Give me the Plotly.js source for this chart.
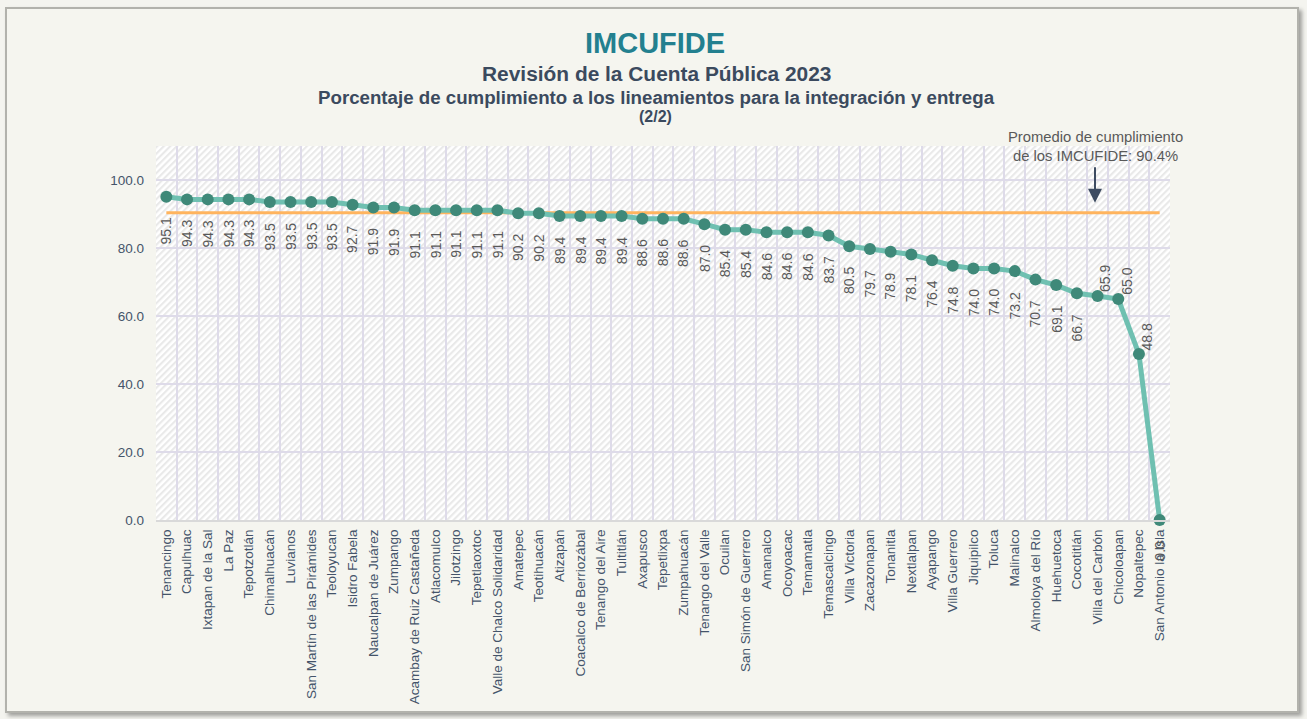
<!DOCTYPE html>
<html><head><meta charset="utf-8">
<script src="https://cdn.plot.ly/plotly-3.0.1.min.js"></script>
<style>
html,body{margin:0;padding:0;background:#f4f4ef;}
#frame{position:absolute;left:5px;top:7px;width:1290px;height:702px;background:#F5F5EF;border:2px solid #b2b2ac;box-shadow:3px 3px 4px rgba(0,0,0,0.35);}
#chart{position:absolute;left:0;top:0;width:1307px;height:719px;}
</style></head><body>
<div id="frame"></div><div id="chart"></div>
<script>
const municipios = [
  "Tenancingo","Capulhuac","Ixtapan de la Sal","La Paz","Tepotzotlán","Chimalhuacán","Luvianos",
  "San Martín de las Pirámides","Teoloyucan","Isidro Fabela","Naucalpan de Juárez","Zumpango",
  "Acambay de Ruiz Castañeda","Atlacomulco","Jilotzingo","Tepetlaoxtoc","Valle de Chalco Solidaridad",
  "Amatepec","Teotihuacán","Atizapán","Coacalco de Berriozábal","Tenango del Aire","Tultitlán",
  "Axapusco","Tepetlixpa","Zumpahuacán","Tenango del Valle","Ocuilan","San Simón de Guerrero",
  "Amanalco","Ocoyoacac","Temamatla","Temascalcingo","Villa Victoria","Zacazonapan","Tonanitla",
  "Nextlalpan","Ayapango","Villa Guerrero","Jiquipilco","Toluca","Malinalco","Almoloya del Río",
  "Huehuetoca","Cocotitlán","Villa del Carbón","Chicoloapan","Nopaltepec","San Antonio la Isla"
];
const cumplimiento = [
  95.1,94.3,94.3,94.3,94.3,93.5,93.5,
  93.5,93.5,92.7,91.9,91.9,
  91.1,91.1,91.1,91.1,91.1,
  90.2,90.2,89.4,89.4,89.4,89.4,
  88.6,88.6,88.6,87.0,85.4,85.4,
  84.6,84.6,84.6,83.7,80.5,79.7,78.9,
  78.1,76.4,74.8,74.0,74.0,73.2,70.7,
  69.1,66.7,65.9,65.0,48.8,0.0
];
const promedio = 90.4;
const yTicks = [0,20,40,60,80,100];
const titulo = "IMCUFIDE";
const subtitulo1 = "Revisión de la Cuenta Pública 2023";
const subtitulo2 = "Porcentaje de cumplimiento a los lineamientos para la integración y entrega";
const subtitulo3 = "(2/2)";
const notaPromedio = "Promedio de cumplimiento<br>de los IMCUFIDE: 90.4%";

const F = "Liberation Sans, Arial, sans-serif";
const W = 1307, H = 719, mL = 156, mR = 137, mT = 146, mB = 199;
const pw = W - mL - mR, ph = H - mT - mB;
const py = p => (H - mB - p) / ph;   // pixel y -> paper y
const px = p => (p - mL) / pw;       // pixel x -> paper x

const svg = `<svg xmlns="http://www.w3.org/2000/svg" width="${pw}" height="${ph}"><defs><pattern id="h" width="4.6" height="4.6" patternUnits="userSpaceOnUse" patternTransform="rotate(45)"><rect width="4.6" height="4.6" fill="#ffffff"/><rect width="2.1" height="4.6" fill="#e9e9e9"/></pattern></defs><rect width="100%" height="100%" fill="url(#h)"/></svg>`;
const hatch = "data:image/svg+xml;charset=utf-8," + encodeURIComponent(svg);

const arribaDerecha = new Set([45,46,47]);
const etiquetas = cumplimiento.map((v,i) => {
  const up = arribaDerecha.has(i);
  return {
    x: municipios[i], y: v, xref:'x', yref:'y', text: v.toFixed(1), textangle: -90,
    showarrow:false, font:{family:F,size:14,color:'#595959'},
    xanchor:'center', yanchor: up ? 'bottom' : 'top',
    xshift: up ? 8 : 0, yshift: up ? 2 : -19
  };
});

const titulos = [
  {text:'<b>'+titulo+'</b>', x:px(655), y:py(43), font:{family:F,size:29,color:'#23808F'}},
  {text:'<b>'+subtitulo1+'</b>', x:px(656), y:py(73), font:{family:F,size:20.9,color:'#3B4A5E'}},
  {text:'<b>'+subtitulo2+'</b>', x:px(656), y:py(98), font:{family:F,size:18.7,color:'#3B4A5E'}},
  {text:'<b>'+subtitulo3+'</b>', x:px(655), y:py(117), font:{family:F,size:16,color:'#3B4A5E'}}
].map(a => Object.assign(a,{xref:'paper',yref:'paper',xanchor:'center',yanchor:'middle',showarrow:false}));

const nota = [
  {text: notaPromedio, x:px(1095), y:py(166), xref:'paper', yref:'paper', xanchor:'center', yanchor:'bottom',
   showarrow:false, font:{family:F,size:14.8,color:'#595959'}},
  {text:'', x:px(1095), y:promedio, xref:'paper', yref:'y', yshift:10, showarrow:true,
   ax:0, ay:-37, arrowhead:2, arrowsize:1.4, arrowwidth:2, arrowcolor:'#3D4B61'}
];

const traces = [
  {x:[municipios[0], municipios[municipios.length-1]], y:[promedio,promedio], type:'scatter', mode:'lines',
   line:{color:'#FFB45E', width:3}, hoverinfo:'skip'},
  {x:municipios, y:cumplimiento, type:'scatter', mode:'lines+markers', cliponaxis:false,
   line:{color:'#6FC0B1', width:5}, marker:{color:'#3F8979', size:12}, hoverinfo:'x+y'}
];

const layout = {
  width:W, height:H, margin:{l:mL,r:mR,t:mT,b:mB},
  paper_bgcolor:'rgba(0,0,0,0)', plot_bgcolor:'rgba(0,0,0,0)',
  showlegend:false, font:{family:F},
  xaxis:{type:'category', categoryorder:'array', categoryarray:municipios,
    range:[-0.5, municipios.length-0.5], tickangle:-90, tickson:'boundaries',
    showgrid:true, gridcolor:'#dedbe9', gridwidth:1.5, ticks:'', ticklabelstandoff:2,
    tickfont:{family:F,size:13.5,color:'#44546A'}, showline:true, linecolor:'#d9d9d9', linewidth:2,
    fixedrange:true},
  yaxis:{range:[0,110], tickmode:'array', tickvals:yTicks, tickformat:'.1f', showgrid:true,
    gridcolor:'#dedbe9', gridwidth:1.5, zeroline:false, ticks:'', ticklabelstandoff:11,
    tickfont:{family:F,size:13.5,color:'#44546A'}, fixedrange:true},
  images:[{source:hatch, xref:'paper', yref:'paper', x:0, y:1, sizex:1, sizey:1,
    sizing:'stretch', xanchor:'left', yanchor:'top', layer:'below'}],
  annotations: titulos.concat(nota, etiquetas)
};
Plotly.newPlot('chart', traces, layout, {displayModeBar:false});
</script>
</body></html>
